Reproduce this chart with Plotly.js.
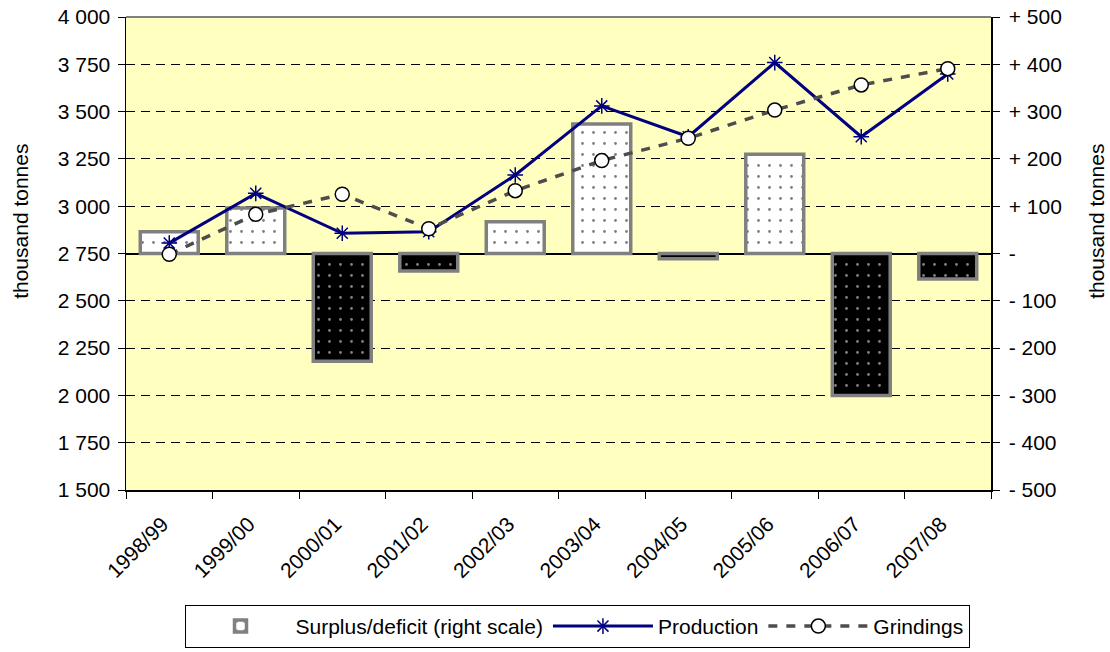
<!DOCTYPE html>
<html>
<head>
<meta charset="utf-8">
<script src="https://cdn.plot.ly/plotly-3.0.1.min.js"></script>
<style>
  html, body { margin: 0; padding: 0; background: #ffffff; }
  #chart { width: 1110px; height: 652px; }
</style>
</head>
<body>
<div id="chart"></div>
<script>
// ---- data ----
var seasons = ["1998/99", "1999/00", "2000/01", "2001/02", "2002/03", "2003/04", "2004/05", "2005/06", "2006/07", "2007/08"];
var production = [2805, 3068, 2857, 2865, 3165, 3530, 3367, 3759, 3367, 3699];
var grindings = [2746, 2957, 3063, 2881, 3082, 3241, 3359, 3508, 3641, 3727];
var surplus = [46, 96, -228, -37, 67, 274, -11, 210, -300, -54];

var leftTickVals = [1500, 1750, 2000, 2250, 2500, 2750, 3000, 3250, 3500, 3750, 4000];
var leftTickText = ["1 500", "1 750", "2 000", "2 250", "2 500", "2 750", "3 000", "3 250", "3 500", "3 750", "4 000"];
var rightTickVals = [-500, -400, -300, -200, -100, 0, 100, 200, 300, 400, 500];
var rightTickText = ["- 500", "- 400", "- 300", "- 200", "- 100", "-", "+ 100", "+ 200", "+ 300", "+ 400", "+ 500"];

var seriesNames = ["Surplus/deficit (right scale)", "Production", "Grindings"];
var axisTitle = "thousand tonnes";

// split the surplus series into surplus (light) and deficit (dark) bars
var surplusPos = surplus.map(function (v) { return v >= 0 ? v : null; });
var surplusNeg = surplus.map(function (v) { return v < 0 ? v : null; });

var FONT = "Liberation Sans, Arial, sans-serif";

var barCommon = {
  type: "bar",
  x: seasons,
  yaxis: "y",
  width: 0.67,
  legendgroup: "surplus",
  name: seriesNames[0]
};

var traces = [
  Object.assign({}, barCommon, {
    y: surplusPos,
    showlegend: true,
    marker: {
      color: "#ffffff",
      line: { color: "#808080", width: 3.5 },
      pattern: { shape: ".", fgcolor: "#000000", size: 11, solidity: 0.05, fillmode: "overlay" }
    }
  }),
  Object.assign({}, barCommon, {
    y: surplusNeg,
    showlegend: false,
    marker: {
      color: "#000000",
      line: { color: "#808080", width: 3.5 },
      pattern: { shape: ".", fgcolor: "#ffffff", size: 11, solidity: 0.05, fillmode: "overlay" }
    }
  }),
  {
    type: "scatter",
    mode: "lines+markers",
    name: seriesNames[1],
    x: seasons,
    y: production,
    yaxis: "y2",
    line: { color: "#000080", width: 3 },
    marker: { symbol: "asterisk-open", size: 13, color: "#000080", line: { color: "#000080", width: 1.5 } }
  },
  {
    type: "scatter",
    mode: "lines+markers",
    name: seriesNames[2],
    x: seasons,
    y: grindings,
    yaxis: "y2",
    line: { color: "#4d4d4d", width: 3.5, dash: "9px,9px" },
    marker: { symbol: "circle", size: 14, color: "#ffffff", line: { color: "#000000", width: 1.5 } }
  }
];

var layout = {
  width: 1110,
  height: 652,
  margin: { l: 126, r: 119, t: 17, b: 162, autoexpand: false },
  paper_bgcolor: "#ffffff",
  plot_bgcolor: "#FFFFC0",
  font: { family: FONT, size: 21, color: "#000000" },
  showlegend: true,
  barmode: "overlay",
  xaxis: {
    type: "category",
    range: [-0.5, 9.5],
    showline: true,
    linecolor: "#000000",
    linewidth: 1.5,
    ticks: "outside",
    tickson: "boundaries",
    ticklen: 7,
    tickcolor: "#000000",
    tickangle: -45,
    ticklabelstandoff: 12,
    ticklabelshift: -7,
    showgrid: false,
    zeroline: false,
    automargin: false,
    tickfont: { family: FONT, size: 21, color: "#000000" }
  },
  yaxis: {
    side: "right",
    range: [-500, 500],
    tickvals: rightTickVals,
    ticktext: rightTickText,
    showgrid: false,
    zeroline: true,
    zerolinecolor: "#000000",
    zerolinewidth: 2,
    showline: true,
    linecolor: "#000000",
    linewidth: 1.5,
    ticks: "outside",
    ticklen: 7,
    tickcolor: "#000000",
    ticklabelstandoff: 5,
    automargin: false,
    tickfont: { family: FONT, size: 21, color: "#000000" }
  },
  yaxis2: {
    overlaying: "y",
    side: "left",
    range: [1500, 4000],
    tickvals: leftTickVals,
    ticktext: leftTickText,
    showgrid: true,
    gridcolor: "#000000",
    gridwidth: 1,
    griddash: "9px,6px",
    zeroline: false,
    showline: true,
    linecolor: "#000000",
    linewidth: 1.5,
    ticks: "outside",
    ticklen: 7,
    tickcolor: "#000000",
    ticklabelstandoff: 3,
    automargin: false,
    tickfont: { family: FONT, size: 21, color: "#000000" }
  },
  legend: {
    orientation: "h",
    x: 0.5214,
    xanchor: "center",
    y: -0.243,
    yanchor: "top",
    bgcolor: "#ffffff",
    bordercolor: "#000000",
    borderwidth: 1,
    itemwidth: 100,
    traceorder: "normal",
    font: { family: FONT, size: 21, color: "#000000" }
  },
  shapes: [
    { type: "line", xref: "paper", yref: "paper", x0: 0, x1: 1, y0: 1, y1: 1,
      line: { color: "#808080", width: 2 }, layer: "above" }
  ],
  annotations: [
    { text: axisTitle, xref: "paper", yref: "paper", x: -0.1214, y: 0.569,
      textangle: -90, showarrow: false, xanchor: "center", yanchor: "middle",
      font: { family: FONT, size: 21, color: "#000000" } },
    { text: axisTitle, xref: "paper", yref: "paper", x: 1.1225, y: 0.569,
      textangle: -90, showarrow: false, xanchor: "center", yanchor: "middle",
      font: { family: FONT, size: 21, color: "#000000" } }
  ]
};

Plotly.newPlot("chart", traces, layout, { displayModeBar: false, staticPlot: true });
</script>
</body>
</html>
